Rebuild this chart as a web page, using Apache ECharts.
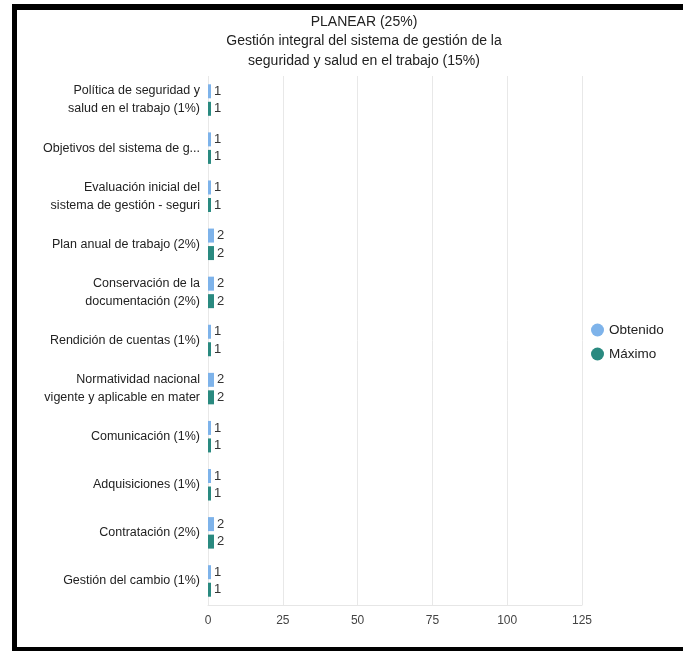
<!DOCTYPE html>
<html>
<head>
<meta charset="utf-8">
<script src="https://cdn.jsdelivr.net/npm/echarts@6/dist/echarts.min.js"></script>
<style>
html,body{margin:0;padding:0;background:#fff;width:683px;height:652px;overflow:hidden;}
#chart{position:absolute;left:0;top:0;width:683px;height:652px;}
#frame{position:absolute;left:12px;top:4px;width:720px;height:647px;box-sizing:border-box;border-left:5px solid #000;border-top:6px solid #000;border-bottom:4px solid #000;pointer-events:none;}
</style>
</head>
<body>
<div id="chart"></div>
<div id="frame"></div>
<script>
const titleText = 'PLANEAR (25%)\nGestión integral del sistema de gestión de la\nseguridad y salud en el trabajo (15%)';
const categories = [
  'Política de seguridad y\nsalud en el trabajo (1%)',
  'Objetivos del sistema de g...',
  'Evaluación inicial del\nsistema de gestión - seguri',
  'Plan anual de trabajo (2%)',
  'Conservación de la\ndocumentación (2%)',
  'Rendición de cuentas (1%)',
  'Normatividad nacional\nvigente y aplicable en mater',
  'Comunicación (1%)',
  'Adquisiciones (1%)',
  'Contratación (2%)',
  'Gestión del cambio (1%)'
];
const obtenido = [1, 1, 1, 2, 2, 1, 2, 1, 1, 2, 1];
const maximo   = [1, 1, 1, 2, 2, 1, 2, 1, 1, 2, 1];
const seriesNames = ['Obtenido', 'Máximo'];
const xTicks = [0, 25, 50, 75, 100, 125];

const FONT = 'Liberation Sans, Arial, sans-serif';
const chart = echarts.init(document.getElementById('chart'), null, {renderer: 'canvas'});
const labelStyle = {show: true, position: 'right', distance: 3, color: '#333', fontSize: 13, fontFamily: FONT};
chart.setOption({
  animation: false,
  backgroundColor: '#fff',
  title: {
    text: titleText,
    left: 359, top: 7, textAlign: 'center',
    textStyle: {fontSize: 14, fontWeight: 'normal', color: '#222', lineHeight: 19.5, fontFamily: FONT}
  },
  legend: {
    orient: 'vertical', left: 586, top: 318,
    icon: 'circle', itemWidth: 13, itemHeight: 13, itemGap: 10,
    textStyle: {fontSize: 13.5, color: '#222', fontFamily: FONT},
    data: seriesNames
  },
  grid: {left: 208, right: 101, top: 76, bottom: 47, containLabel: false},
  xAxis: {
    type: 'value', min: xTicks[0], max: xTicks[xTicks.length - 1], interval: 25,
    axisLine: {show: true, lineStyle: {color: '#e6e6e6'}},
    axisTick: {show: false},
    splitLine: {show: true, lineStyle: {color: '#e8e8e8'}},
    axisLabel: {color: '#444', fontSize: 12, margin: 10, fontFamily: FONT}
  },
  yAxis: {
    type: 'category', inverse: true, data: categories,
    axisLine: {show: false}, axisTick: {show: false},
    axisLabel: {color: '#222', fontSize: 12.5, lineHeight: 18, margin: 8, align: 'right', fontFamily: FONT}
  },
  series: [
    {name: seriesNames[0], type: 'bar', data: obtenido, barWidth: 14, barGap: '25%', itemStyle: {color: '#7eb3ea'}, label: labelStyle},
    {name: seriesNames[1], type: 'bar', data: maximo, barWidth: 14, itemStyle: {color: '#2a8a80'}, label: labelStyle}
  ]
});
</script>
</body>
</html>
